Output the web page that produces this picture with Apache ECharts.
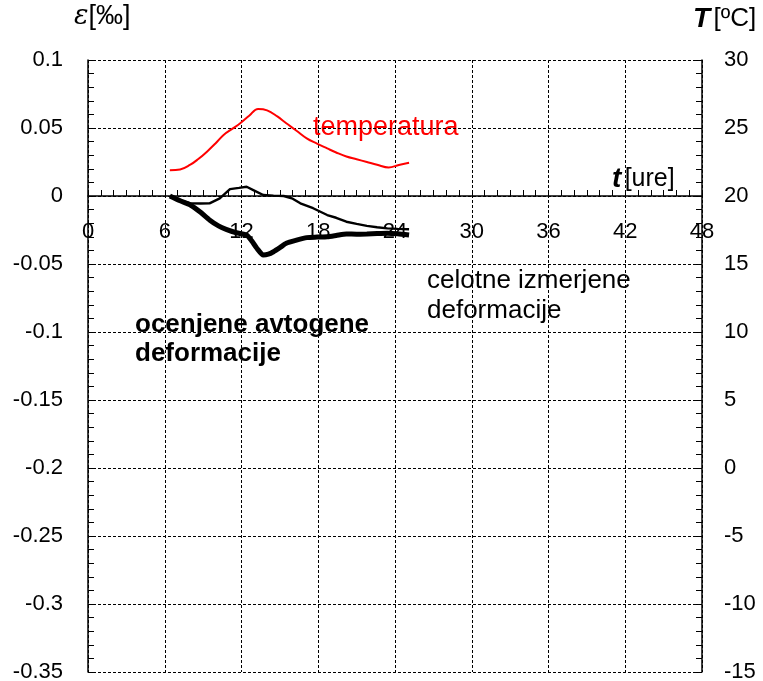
<!DOCTYPE html>
<html>
<head>
<meta charset="utf-8">
<script src="https://cdn.jsdelivr.net/npm/echarts@6/dist/echarts.min.js"></script>
<style>
  html, body { margin: 0; padding: 0; background: #fff; }
  #chart { width: 763px; height: 681px; }
</style>
</head>
<body>
<div id="chart"></div>
<script>
// time [h], temperature [C]
var tempTime = [6.4, 7.2, 8.0, 8.6, 9.3, 10.0, 10.6, 11.3, 11.9, 12.6, 13.3, 14.0, 14.8, 15.5, 16.3, 17.1, 17.9, 18.7, 19.4, 20.2, 21.0, 21.8, 22.6, 23.5, 24.3, 25.1];
var tempVals = [21.9, 21.95, 22.3, 22.7, 23.26, 23.9, 24.49, 24.95, 25.35, 25.9, 26.4, 26.3, 25.85, 25.35, 24.8, 24.24, 23.85, 23.5, 23.2, 22.9, 22.7, 22.5, 22.3, 22.1, 22.28, 22.45];

// total measured deformation [permil]
var totalTime = [6.4, 7.2, 8.0, 8.8, 9.5, 10.3, 11.1, 11.8, 12.4, 13.0, 13.7, 14.5, 15.3, 16.0, 16.6, 17.6, 18.7, 19.4, 20.2, 21.0, 21.8, 22.6, 23.4, 24.2, 25.1];
var totalVals = [0, -0.003, -0.0054, -0.0055, -0.0054, -0.0017, 0.0051, 0.006, 0.0068, 0.004, 0.0007, 0.0003, 0, -0.002, -0.0054, -0.009, -0.014, -0.016, -0.0189, -0.0205, -0.022, -0.023, -0.0238, -0.0242, -0.0245];

// estimated autogenous deformation [permil]
var autoTime = [6.4, 7.2, 8.0, 8.8, 9.5, 10.2, 10.8, 11.6, 12.4, 12.8, 13.2, 13.7, 14.1, 14.5, 15.0, 15.5, 16.3, 17.1, 17.9, 18.7, 19.4, 20.2, 21.0, 21.8, 22.6, 23.4, 24.2, 25.1];
var autoVals = [0, -0.0035, -0.0066, -0.012, -0.0176, -0.022, -0.0245, -0.027, -0.0287, -0.033, -0.0384, -0.0434, -0.0428, -0.041, -0.038, -0.0348, -0.0325, -0.0306, -0.0302, -0.0299, -0.029, -0.0279, -0.0281, -0.0279, -0.0276, -0.0274, -0.0278, -0.0287];

function pairs(xs, ys) {
  return xs.map(function (x, i) { return [x, ys[i]]; });
}

var font = '"Liberation Sans", Arial, sans-serif';
var chart = echarts.init(document.getElementById('chart'));

// plot is 612px tall, zero of the strain axis sits 136px below the top
var zeroOffset = -476;

var option = {
  animation: false,
  backgroundColor: '#fff',
  textStyle: { fontFamily: font },
  grid: { left: 88, right: 61, top: 60, bottom: 9, outerBoundsMode: 'none', containLabel: false },
  xAxis: [
    {
      type: 'value', min: 0, max: 48, interval: 6,
      offset: zeroOffset,
      axisLine: { onZero: false, lineStyle: { color: '#000', width: 1.5 } },
      axisTick: { show: true, inside: true, length: 6, lineStyle: { color: '#000' } },
      minorTick: { show: true, splitNumber: 6, length: 6, lineStyle: { color: '#000' } },
      axisLabel: { color: '#000', fontSize: 22, margin: 25, fontFamily: font },
      splitLine: { show: false }
    },
    {
      type: 'value', min: 0, max: 48, interval: 6, position: 'bottom',
      axisLine: { show: false },
      axisTick: { show: false },
      axisLabel: { show: false },
      splitLine: { show: true, lineStyle: { color: '#000', type: [3, 2], width: 1 } }
    }
  ],
  yAxis: [
    {
      type: 'value', min: -0.35, max: 0.1, interval: 0.05,
      axisLine: { show: true, onZero: false, lineStyle: { color: '#000', width: 1.5 } },
      axisTick: { show: true, inside: true, length: 6, lineStyle: { color: '#000' } },
      minorTick: { show: true, splitNumber: 5, length: 6, lineStyle: { color: '#000' } },
      axisLabel: { color: '#000', fontSize: 22, margin: 25, fontFamily: font },
      splitLine: { show: true, lineStyle: { color: '#000', type: [3, 2], width: 1 } }
    },
    {
      type: 'value', min: -15, max: 30, interval: 5, position: 'right',
      axisLine: { show: true, onZero: false, lineStyle: { color: '#000', width: 1.5 } },
      axisTick: { show: true, inside: true, length: 6, lineStyle: { color: '#000' } },
      minorTick: { show: true, splitNumber: 5, length: 6, lineStyle: { color: '#000' } },
      axisLabel: { color: '#000', fontSize: 22, margin: 22, fontFamily: font },
      splitLine: { show: false }
    }
  ],
  series: [
    {
      name: 'temperatura', type: 'line', yAxisIndex: 1,
      data: pairs(tempTime, tempVals), showSymbol: false, smooth: 0.4,
      lineStyle: { color: '#ff0000', width: 2 }
    },
    {
      name: 'celotne izmerjene deformacije', type: 'line', yAxisIndex: 0,
      data: pairs(totalTime, totalVals), showSymbol: false,
      lineStyle: { color: '#000', width: 2.4 }
    },
    {
      name: 'ocenjene avtogene deformacije', type: 'line', yAxisIndex: 0,
      data: pairs(autoTime, autoVals), showSymbol: false, smooth: 0.2,
      lineStyle: { color: '#000', width: 5 }
    }
  ],
  graphic: [
    {
      type: 'text', left: 74, top: 3,
      style: {
        text: '{e|ε}{n|[‰]}',
        rich: {
          e: { fontFamily: '"DejaVu Serif", serif', fontStyle: 'italic', fontSize: 27, fill: '#000' },
          n: { fontFamily: font, fontSize: 27, fill: '#000' }
        }
      }
    },
    {
      type: 'text', left: 693, top: 5,
      style: {
        text: '{t|T} {n|[ºC]}',
        rich: {
          t: { fontFamily: font, fontStyle: 'italic', fontWeight: 'bold', fontSize: 28, fill: '#000' },
          n: { fontFamily: font, fontSize: 26, fill: '#000' }
        }
      }
    },
    {
      type: 'text', left: 612, top: 165,
      style: {
        text: '{t|t} {n|[ure]}',
        rich: {
          t: { fontFamily: font, fontStyle: 'italic', fontWeight: 'bold', fontSize: 28, fill: '#000' },
          n: { fontFamily: font, fontSize: 25, fill: '#000' }
        }
      }
    },
    {
      type: 'text', left: 313, top: 113,
      style: { text: 'temperatura', fontFamily: font, fontSize: 27, lineHeight: 30, fill: '#ff0000' }
    },
    {
      type: 'text', left: 427, top: 266,
      style: { text: 'celotne izmerjene\ndeformacije', fontFamily: font, fontSize: 26, lineHeight: 30, fill: '#000' }
    },
    {
      type: 'text', left: 135, top: 310,
      style: { text: 'ocenjene avtogene\ndeformacije', fontFamily: font, fontSize: 26, fontWeight: 'bold', lineHeight: 29, fill: '#000' }
    }
  ]
};

chart.setOption(option);
</script>
</body>
</html>
